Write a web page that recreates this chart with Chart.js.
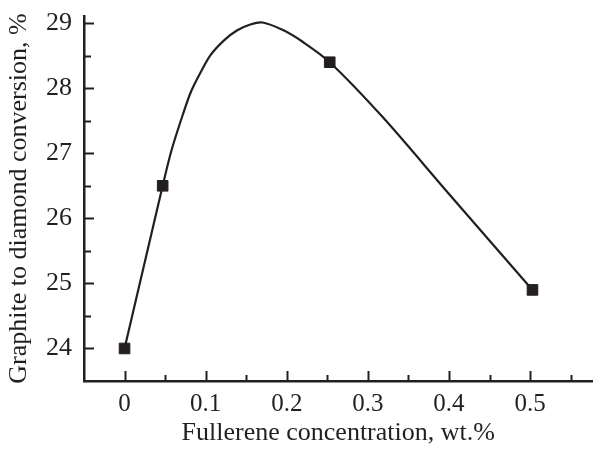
<!DOCTYPE html>
<html>
<head>
<meta charset="utf-8">
<script src="https://cdn.jsdelivr.net/npm/chart.js@4/dist/chart.umd.min.js"></script>
<style>
  html, body { margin: 0; padding: 0; background: #fff; }
  #wrap { width: 601px; height: 449px; }
</style>
</head>
<body>
<div id="wrap"><canvas id="chart" width="601" height="449"></canvas></div>
<script>
// ============================================================
// Data
// ============================================================
const measuredConc = [0, 0.047, 0.253, 0.503];
const measuredConversion = [24.0, 26.5, 28.4, 24.9];

// smooth fitted curve as drawn in the figure
const curveConc = [0, 0.047, 0.058, 0.072, 0.082, 0.094, 0.106, 0.123, 0.139, 0.155, 0.170, 0.196, 0.220, 0.253, 0.318, 0.399, 0.503];
const curveConversion = [24.0, 26.5, 27.05, 27.60, 27.95, 28.25, 28.51, 28.74, 28.89, 28.98, 29.01, 28.89, 28.71, 28.4, 27.56, 26.39, 24.9];

const xMajorTicks = [0, 0.1, 0.2, 0.3, 0.4, 0.5];
const xMinorTicks = [0.05, 0.15, 0.25, 0.35, 0.45, 0.55];
const yMajorTicks = [24, 25, 26, 27, 28, 29];
const yMinorTicks = [24.5, 25.5, 26.5, 27.5, 28.5];

const INK = '#231f20';
const SERIF = '"Liberation Serif", "Times New Roman", serif';

// ============================================================
// Inward tick marks, drawn through the chart's own scales
// ============================================================
const innerTicks = {
  id: 'innerTicks',
  afterDraw(chart) {
    const { ctx, chartArea, scales } = chart;
    ctx.save();
    ctx.strokeStyle = INK;
    ctx.lineWidth = 2;
    const xTick = (v, len) => {
      const px = Math.round(scales.x.getPixelForValue(v)) + 0.5;
      ctx.beginPath();
      ctx.moveTo(px, chartArea.bottom);
      ctx.lineTo(px, chartArea.bottom - len);
      ctx.stroke();
    };
    const yTick = (v, len) => {
      const py = Math.round(scales.y.getPixelForValue(v)) + 0.5;
      ctx.beginPath();
      ctx.moveTo(chartArea.left, py);
      ctx.lineTo(chartArea.left + len, py);
      ctx.stroke();
    };
    xMajorTicks.forEach(v => xTick(v, 10));
    xMinorTicks.forEach(v => xTick(v, 6));
    yMajorTicks.forEach(v => yTick(v, 10));
    yMinorTicks.forEach(v => yTick(v, 7));
    ctx.restore();
  }
};

// ============================================================
// Chart
// ============================================================
const ctx = document.getElementById('chart').getContext('2d');
new Chart(ctx, {
  type: 'line',
  data: {
    datasets: [
      {
        label: 'Measured',
        data: measuredConc.map((x, i) => ({ x, y: measuredConversion[i] })),
        showLine: false,
        pointStyle: 'rect',
        pointRadius: 7.5,
        pointBorderWidth: 1,
        pointBackgroundColor: INK,
        pointBorderColor: INK,
      },
      {
        label: 'Curve',
        data: curveConc.map((x, i) => ({ x, y: curveConversion[i] })),
        borderColor: INK,
        borderWidth: 2.2,
        pointRadius: 0,
        tension: 0.3,
        fill: false,
      },
    ],
  },
  options: {
    responsive: false,
    animation: false,
    devicePixelRatio: 1,
    layout: { padding: { top: 16, right: 3, left: 0, bottom: 0 } },
    plugins: {
      legend: { display: false },
      tooltip: { enabled: false },
    },
    scales: {
      x: {
        type: 'linear',
        min: -0.05,
        max: 0.577,
        afterFit: scale => {
          scale.height = 68;
          scale.paddingLeft = 0;
          scale.paddingRight = 0;
        },
        afterBuildTicks: scale => { scale.ticks = xMajorTicks.map(v => ({ value: v })); },
        grid: { display: false, drawTicks: false },
        border: { display: true, color: INK, width: 2.5 },
        ticks: {
          color: INK,
          padding: 8,
          maxRotation: 0,
          font: { family: SERIF, size: 25 },
          callback: v => String(v),
        },
        title: {
          display: true,
          text: 'Fullerene concentration, wt.%',
          color: INK,
          font: { family: SERIF, size: 26 },
          padding: { top: 0, bottom: 0 },
        },
      },
      y: {
        type: 'linear',
        min: 23.5,
        max: 29.11,
        afterFit: scale => {
          scale.width = 84;
          scale.paddingTop = 0;
          scale.paddingBottom = 0;
        },
        afterBuildTicks: scale => { scale.ticks = yMajorTicks.map(v => ({ value: v })); },
        grid: { display: false, drawTicks: false },
        border: { display: true, color: INK, width: 2.5 },
        ticks: {
          color: INK,
          padding: 12,
          font: { family: SERIF, size: 26 },
          callback: v => String(v),
        },
        title: {
          display: true,
          text: 'Graphite to diamond conversion, %',
          color: INK,
          font: { family: SERIF, size: 26 },
          padding: { top: 4, bottom: 0 },
        },
      },
    },
  },
  plugins: [innerTicks],
});
</script>
</body>
</html>
